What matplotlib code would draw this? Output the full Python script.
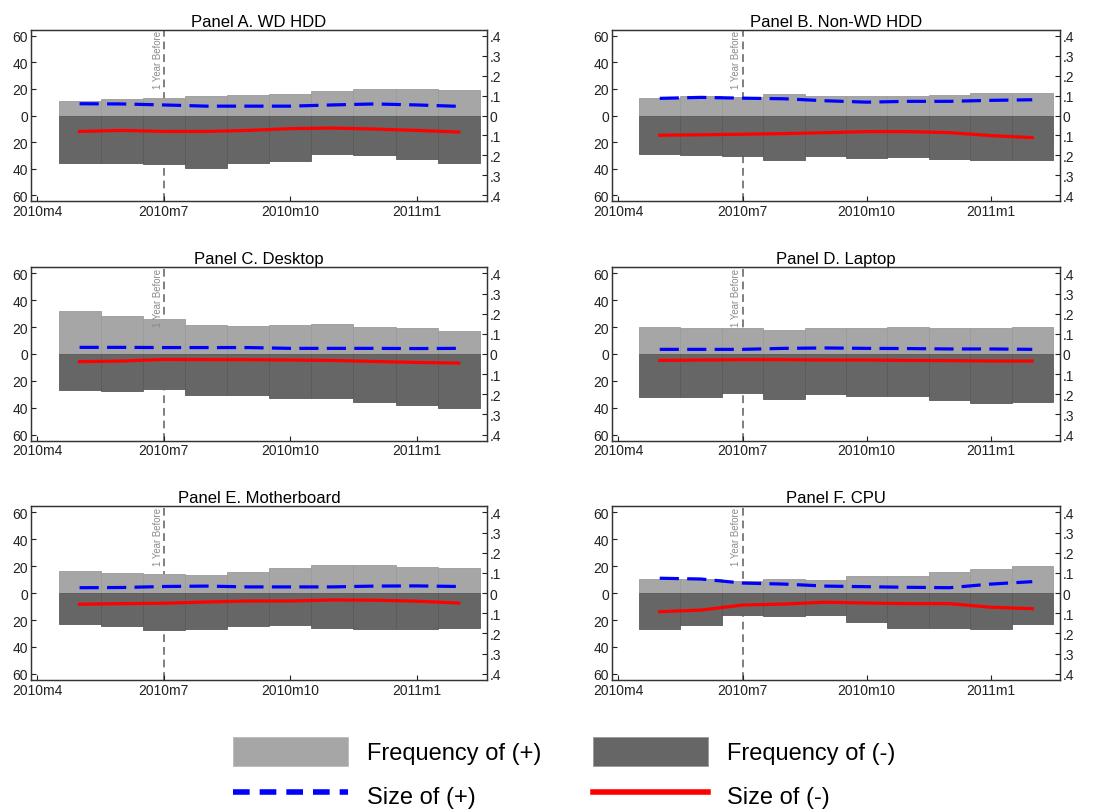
import numpy as np
import matplotlib
matplotlib.use("Agg")
import matplotlib.pyplot as plt
from matplotlib.patches import Patch
from matplotlib.lines import Line2D

plt.rcParams["font.family"] = ["Liberation Sans", "DejaVu Sans"]

# months since 2010m4: bars/lines at 2010m5 .. 2011m2
months = np.arange(1, 11)
xtick_pos = [0, 3, 6, 9]
xtick_labels = ["2010m4", "2010m7", "2010m10", "2011m1"]

titles = ["Panel A. WD HDD", "Panel B. Non-WD HDD", "Panel C. Desktop",
          "Panel D. Laptop", "Panel E. Motherboard", "Panel F. CPU"]

# frequency of (+) price changes (left axis, upward)
freq_pos = [
    [11.1, 12.1, 13.1, 14.6, 15.6, 16.4, 18.1, 19.7, 20.2, 19.2],
    [13.1, 14.4, 13.6, 16.1, 14.4, 14.9, 14.4, 15.1, 16.9, 17.1],
    [31.9, 28.6, 26.4, 21.4, 21.1, 21.4, 22.1, 20.1, 19.1, 17.1],
    [20.1, 19.6, 19.4, 17.6, 19.6, 19.6, 20.1, 19.1, 19.6, 20.4],
    [16.4, 15.1, 14.3, 13.6, 16.1, 18.9, 20.9, 20.6, 19.6, 18.9],
    [10.8, 10.8, 8.8, 10.3, 9.8, 12.6, 12.8, 15.6, 18.1, 20.4],
]
# frequency of (-) price changes (left axis, drawn downward)
freq_neg = [
    [35.8, 35.8, 36.8, 39.8, 35.8, 34.0, 29.0, 29.5, 32.8, 36.0],
    [29.0, 29.7, 30.5, 33.8, 30.8, 32.3, 31.5, 32.8, 33.5, 33.8],
    [26.6, 27.6, 26.1, 30.2, 30.2, 32.9, 32.7, 35.7, 37.9, 40.0],
    [32.2, 32.2, 28.9, 33.7, 29.9, 31.4, 31.4, 34.2, 36.2, 35.4],
    [22.6, 24.2, 27.4, 26.7, 24.7, 23.6, 25.7, 26.7, 26.7, 25.9],
    [26.9, 23.6, 16.6, 17.1, 16.6, 21.1, 26.2, 26.2, 26.4, 23.1],
]
# size of (+) changes (right axis)
size_pos = [
    [0.059, 0.058, 0.053, 0.047, 0.047, 0.047, 0.053, 0.058, 0.053, 0.046],
    [0.086, 0.091, 0.087, 0.084, 0.074, 0.067, 0.071, 0.071, 0.076, 0.079],
    [0.033, 0.033, 0.032, 0.032, 0.032, 0.028, 0.028, 0.028, 0.027, 0.028],
    [0.023, 0.023, 0.023, 0.028, 0.030, 0.028, 0.027, 0.025, 0.025, 0.023],
    [0.027, 0.028, 0.033, 0.035, 0.031, 0.031, 0.031, 0.035, 0.036, 0.033],
    [0.074, 0.070, 0.050, 0.045, 0.035, 0.032, 0.029, 0.027, 0.045, 0.057],
]
# size of (-) changes (right axis, drawn downward)
size_neg = [
    [0.080, 0.075, 0.080, 0.080, 0.075, 0.066, 0.063, 0.068, 0.075, 0.083],
    [0.099, 0.097, 0.094, 0.091, 0.086, 0.081, 0.081, 0.086, 0.101, 0.111],
    [0.038, 0.035, 0.027, 0.028, 0.028, 0.030, 0.032, 0.037, 0.042, 0.045],
    [0.032, 0.030, 0.028, 0.028, 0.030, 0.030, 0.032, 0.033, 0.035, 0.035],
    [0.055, 0.052, 0.050, 0.044, 0.039, 0.039, 0.034, 0.035, 0.040, 0.049],
    [0.092, 0.084, 0.059, 0.054, 0.045, 0.049, 0.052, 0.052, 0.070, 0.077],
]

left_ticks = [60, 40, 20, 0, -20, -40, -60]
left_labels = ["60", "40", "20", "0", "20", "40", "60"]
right_ticks = [0.4, 0.3, 0.2, 0.1, 0, -0.1, -0.2, -0.3, -0.4]
right_labels = [".4", ".3", ".2", ".1", "0", ".1", ".2", ".3", ".4"]

LIGHT = "#a6a6a6"
DARK = "#666666"
YMAX = 64.6

W, H = 1093, 812
fig = plt.figure(figsize=(W / 100, H / 100), dpi=100)

cols = [(30.7, 487.0), (611.7, 1060.0)]
rows = [(30.7, 202.3), (268.3, 441.7), (507.3, 681.0)]

for i in range(6):
    r, c = divmod(i, 2)
    x0, x1 = cols[c]
    y0, y1 = rows[r]
    ax = fig.add_axes([x0 / W, 1 - y1 / H, (x1 - x0) / W, (y1 - y0) / H])
    ax.axvline(3, color="#7f7f7f", ls=(0, (4, 2.5)), lw=1.4, zorder=1)
    ax.bar(months, freq_pos[i], width=1, color=LIGHT, edgecolor="#9b9b9b",
           linewidth=0.6, zorder=2)
    ax.bar(months, -np.array(freq_neg[i]), width=1, color=DARK,
           edgecolor="#5a5a5a", linewidth=0.6, zorder=2)
    ax.text(2.97, YMAX - 0.5, "1 Year Before", rotation=90, ha="right",
            va="top", fontsize=6.9, color="#8a8a8a", zorder=3)
    ax.set_xlim(-0.16, 10.67)
    ax.set_ylim(-YMAX, YMAX)
    ax.set_xticks(xtick_pos)
    ax.set_xticklabels(xtick_labels)
    ax.set_yticks(left_ticks)
    ax.set_yticklabels(left_labels)
    ax.tick_params(direction="in", length=3.5, width=0.8, labelsize=10,
                   pad=2, colors="#222222")
    ax.set_title(titles[i], fontsize=12, pad=3)
    for s in ax.spines.values():
        s.set_color("#333333")
        s.set_linewidth(0.9)

    ax2 = ax.twinx()
    ax2.plot(months, size_pos[i], color="#0000ff", lw=2.3,
             dashes=(6, 2.6), zorder=3)
    ax2.plot(months, -np.array(size_neg[i]), color="#ff0000", lw=2.3,
             zorder=3)
    ax2.set_ylim(-YMAX / 150, YMAX / 150)
    ax2.set_yticks(right_ticks)
    ax2.set_yticklabels(right_labels)
    ax2.tick_params(direction="in", length=3.5, width=0.8, labelsize=10,
                    pad=2, colors="#222222")
    for s in ax2.spines.values():
        s.set_color("#333333")
        s.set_linewidth(0.9)

handles = [
    Patch(facecolor=LIGHT, edgecolor="#bbbbbb", linewidth=0.6),
    Line2D([], [], color="#0000ff", lw=4, dashes=(3, 1.8)),
    Patch(facecolor=DARK, edgecolor="#999999", linewidth=0.6),
    Line2D([], [], color="#ff0000", lw=4),
]
labels = ["Frequency of (+)", "Size of (+)", "Frequency of (-)", "Size of (-)"]
fig.legend(handles, labels, ncol=2, frameon=False, fontsize=17,
           loc="upper left", bbox_to_anchor=(221 / W, 1 - 726 / H),
           borderpad=0, handlelength=4.87, handleheight=1.55,
           handletextpad=0.8, columnspacing=2.2, labelspacing=0.6)

fig.savefig("out.png", dpi=100)
